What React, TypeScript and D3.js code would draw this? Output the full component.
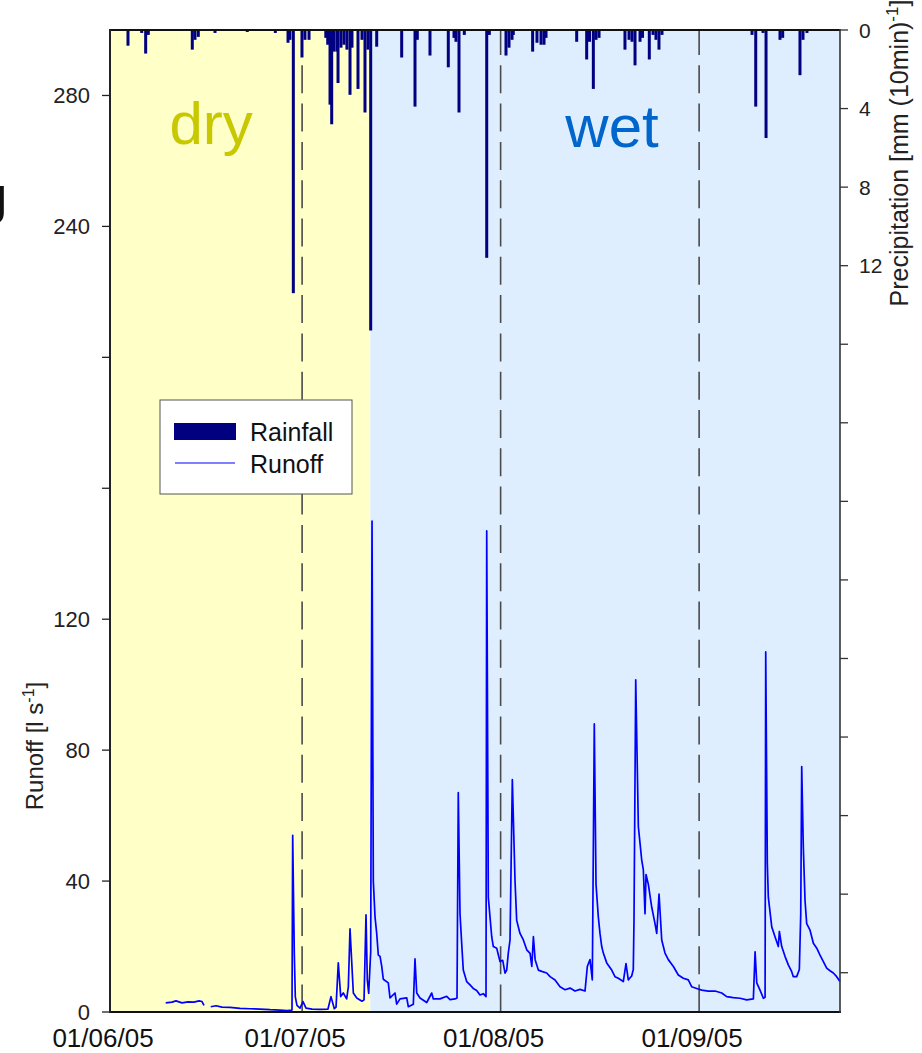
import React from "react";
import * as d3 from "d3";

// days after 01/06/05 00:00 and rainfall depth [mm (10min)^-1]
const rainDay = [
  2.81, 4.95, 5.57, 5.98, 12.85, 13.27, 13.79, 16.4, 21.44, 25.82,
  27.8, 28.1, 28.63, 29.98, 30.45, 31.08, 33.7, 34.0, 34.36, 34.62,
  34.98, 35.45, 35.61, 36.07, 36.54, 37.0, 37.48, 37.79, 38.73, 39.35,
  39.82, 40.29, 40.71, 41.65, 45.55, 47.63, 47.99, 49.97, 52.83, 53.72,
  54.03, 54.5, 55.33, 58.83, 59.24, 61.84, 62.31, 62.78, 62.98, 66.0,
  66.68, 67.31, 67.78, 68.09, 72.88, 74.44, 74.88, 75.48, 75.9, 76.37,
  80.42, 81.05, 81.52, 81.99, 82.77, 83.16, 84.22, 84.8, 85.26, 85.73,
  86.2, 100.26, 100.84, 101.98, 102.45, 104.63, 105.05, 107.75, 108.22, 108.84,
];
const rainMm = [
  0.8, 0.15, 1.2, 0.25, 1.0, 0.5, 0.35, 0.15, 0.1, 0.15,
  0.65, 0.5, 13.4, 1.4, 0.5, 0.5, 0.4, 0.75, 3.8, 4.8,
  1.1, 1.1, 2.7, 0.9, 0.75, 1.0, 3.3, 0.9, 3.0, 0.5,
  4.2, 1.0, 15.3, 0.85, 1.4, 3.9, 0.5, 1.3, 1.9, 0.4,
  0.6, 4.2, 0.25, 11.6, 0.25, 1.3, 0.9, 0.5, 0.25, 1.1,
  0.65, 0.75, 0.75, 0.4, 0.6, 1.5, 0.6, 3.0, 0.5, 0.4,
  1.0, 0.5, 0.6, 1.8, 0.6, 0.4, 1.5, 0.25, 0.5, 1.0,
  0.25, 0.25, 3.9, 0.15, 5.5, 0.5, 0.4, 2.3, 0.5, 0.15,
];

// runoff [l s^-1]: [day after 01/06/05, value]; null = gap in record
const runoff: [number, number | null][] = [
  [8.7, 2.8], [9.68, 3.0], [10.31, 3.4], [11.24, 2.8], [12.18, 3.1], [13.12, 3.0], [13.9, 3.4], [14.37, 3.2], [14.68, 2.0],
  [15.2, null],
  [15.73, 1.6], [16.55, 1.9], [17.49, 1.5], [18.74, 1.4], [20.3, 1.1], [21.86, 1.0], [23.42, 0.9], [24.99, 0.7], [26.55, 0.6], [27.64, 0.4], [28.42, 0.6],
  [28.53, 54], [28.78, 18], [28.94, 4.6], [29.2, 2.0], [29.67, 1.2], [30.14, 3.2], [30.61, 1.2], [31.55, 0.9], [32.8, 0.8], [34.04, 0.9],
  [34.51, 4.7], [35.03, 1.0], [35.3, 1.5], [35.65, 15], [36.03, 4.7], [36.43, 5.8], [36.96, 4.0], [37.22, 7.7], [37.48, 25.4], [38.0, 5.8],
  [38.53, 4.3], [39.35, 3.3], [39.67, 3.7], [39.98, 29.7], [40.18, 9.8], [40.4, 5.7], [40.71, 18.4],
  [40.92, 150], [41.12, 40], [41.39, 29], [41.65, 24], [41.9, 17.4], [42.17, 17], [42.43, 14], [42.68, 10], [43.46, 8.9], [43.73, 4.3],
  [44.51, 5.8], [44.77, 2.4], [45.29, 4.0], [46.34, 4.3], [46.59, 1.6], [47.37, 2.4], [47.63, 16.2], [47.9, 5.8], [48.41, 4.3], [49.46, 2.9],
  [50.24, 5.8], [50.49, 4.0], [51.54, 4.0], [52.58, 4.8], [53.1, 3.8], [53.88, 4.0], [54.19, 4.3],
  [54.39, 67], [54.66, 30], [54.92, 21], [55.17, 12.8], [55.7, 9.3], [56.22, 8.3], [56.73, 7.2], [57.26, 6.6], [57.78, 5.2], [58.3, 5.6], [58.72, 4.7],
  [58.83, 147], [59.08, 35], [59.61, 23], [59.86, 20], [60.39, 19.5], [60.64, 17.5], [60.91, 15.4], [61.33, 15.8], [61.69, 11.9], [61.95, 12.8], [62.2, 18], [62.47, 22],
  [62.83, 71], [63.25, 40], [63.51, 28], [64.03, 24], [64.55, 22], [65.08, 19], [65.6, 17.9], [65.87, 13.9], [66.12, 23], [66.39, 16],
  [66.89, 12.8], [67.42, 12.4], [68.2, 11.9], [68.72, 10.8], [69.5, 9.8], [70.28, 7.7], [71.06, 6.8], [71.84, 7.3], [72.62, 6.4], [73.4, 6.9],
  [74.18, 6.4], [74.54, 13.9], [74.96, 16], [75.32, 9.8],
  [75.63, 88], [75.9, 39], [76.26, 29], [76.52, 24], [76.79, 20], [77.04, 18], [77.57, 15], [78.35, 12.8], [78.86, 10.8], [79.38, 10.3],
  [80.16, 9.3], [80.58, 14.8], [80.94, 9.8], [81.47, 11.0], [81.72, 13], [81.83, 28],
  [82.1, 101.5], [82.51, 56.6], [82.77, 51.6], [83.03, 46.5], [83.29, 43.4], [83.55, 30], [83.71, 42], [84.07, 39], [84.6, 32], [85.11, 27],
  [85.38, 24], [85.74, 36], [86.16, 22], [86.67, 18], [87.19, 16], [87.98, 13.9], [88.75, 11.3], [89.53, 10.3], [90.31, 9.8], [90.85, 7.7],
  [91.62, 7.2], [92.41, 6.7], [93.44, 6.4], [94.48, 6.4], [95.53, 5.8], [96.31, 4.7], [97.34, 4.4], [98.39, 4.2], [99.43, 3.7], [100.47, 4.0],
  [100.74, 18.4], [101.0, 8.9], [101.51, 6.7], [102.03, 4.2], [102.3, 4.5],
  [102.4, 110], [102.65, 45.5], [102.81, 35], [103.34, 26], [103.85, 23], [104.37, 20], [104.53, 24.6], [104.9, 20], [105.41, 17], [105.93, 14.4],
  [106.46, 12.3], [106.71, 10.8], [107.24, 10.8], [107.65, 13], [107.87, 30],
  [108.02, 75], [108.27, 50.5], [108.54, 34], [108.8, 27], [109.32, 25], [109.84, 21], [110.37, 19.5], [110.88, 17.4], [111.4, 15.4], [111.92, 13.4],
  [112.44, 12.6], [112.96, 11.9], [113.48, 10.8], [114.0, 9.3],
];

const periodNames = ["dry", "wet"];
const periodStart = [0, 40.65];
const periodEnd = [40.65, 114];
const periodLabelDay = [15.8, 78.4];

const runoffTicks = [0, 40, 80, 120, 160, 200, 240, 280];
const runoffTickLabels = [0, 40, 80, 120, 240, 280];
const rainTicks = [0, 4, 8, 12, 16, 20, 24, 28, 32, 36, 40, 44, 48];
const rainTickLabels = [0, 4, 8, 12];

const T0 = Date.UTC(2005, 5, 1);
const day = (d: number) => new Date(T0 + d * 864e5);

const FONT = "'Liberation Sans', Arial, Helvetica, sans-serif";
const L = 110, R = 840, TOP = 30, BOT = 1012;

export default function App() {
  const x = d3.scaleUtc().domain([day(0), day(114)]).range([L, R]);
  const yRun = d3.scaleLinear().domain([0, 300]).range([BOT, TOP]);
  const yRain = d3.scaleLinear().domain([0, 50]).range([TOP, BOT]);
  const months = d3.utcMonth.range(day(0), day(114.01));
  const fmt = d3.utcFormat("%d/%m/%y");

  const line = d3
    .line<[number, number | null]>()
    .defined((d) => d[1] !== null)
    .x((d) => x(day(d[0])))
    .y((d) => yRun(d[1] as number));

  const bg = ["#FFFFC8", "#DEEEFF"];
  const labelColor = ["#C8C800", "#0066CC"];
  const labelBase = [144, 147];

  return (
    <svg width={922} height={1053} style={{ position: "absolute", left: 0, top: 0, background: "#fff" }} fontFamily={FONT}>
      {periodNames.map((p, i) => (
        <rect key={p} x={x(day(periodStart[i]))} y={TOP} width={x(day(periodEnd[i])) - x(day(periodStart[i]))} height={BOT - TOP} fill={bg[i]} />
      ))}
      {periodNames.map((p, i) => (
        <text key={p} x={x(day(periodLabelDay[i]))} y={labelBase[i]} textAnchor="middle" fontSize={60} fill={labelColor[i]}>
          {p}
        </text>
      ))}

      {/* month boundaries */}
      {months.map((m) => (
        <line key={+m} x1={x(m)} x2={x(m)} y1={TOP} y2={BOT} stroke="#4a4a4a" strokeWidth={1.6} strokeDasharray="28 10.3" strokeDashoffset={3} />
      ))}

      <path d={line(runoff) || ""} fill="none" stroke="#0000FF" strokeWidth={1.7} strokeLinejoin="round" />

      {rainDay.map((d, i) => (
        <rect key={i} x={x(day(d)) - 1.5} y={yRain(0)} width={3} height={yRain(rainMm[i]) - yRain(0)} fill="#000080" />
      ))}

      {/* legend */}
      <g>
        <rect x={160} y={400} width={192} height={94} fill="#fff" stroke="#555" strokeWidth={1} />
        <rect x={174} y={423} width={62} height={17} fill="#000080" />
        <line x1={175} x2={235} y1={463} y2={463} stroke="#0000FF" strokeWidth={1.2} />
        <text x={250} y={441} fontSize={25} fill="#111">Rainfall</text>
        <text x={250} y={473} fontSize={25} fill="#111">Runoff</text>
      </g>

      {/* frame / axes */}
      <line x1={L} x2={R} y1={TOP} y2={TOP} stroke="#111" strokeWidth={2} />
      <line x1={L} x2={R + 1} y1={BOT} y2={BOT} stroke="#111" strokeWidth={2} />
      <line x1={L} x2={L} y1={TOP - 1} y2={BOT + 1} stroke="#222" strokeWidth={2} />
      <line x1={R} x2={R} y1={TOP - 1} y2={BOT + 1} stroke="#333" strokeWidth={1.6} />

      {runoffTicks.map((t) => (
        <g key={t} transform={`translate(${L},${yRun(t)})`}>
          <line x1={-8} x2={0} stroke="#222" strokeWidth={1.3} />
          {runoffTickLabels.includes(t) && (
            <text x={-20} dy="0.36em" textAnchor="end" fontSize={22} fill="#222">
              {t}
            </text>
          )}
        </g>
      ))}
      {rainTicks.map((t) => (
        <g key={t} transform={`translate(${R},${yRain(t)})`}>
          <line x1={0} x2={8} stroke="#333" strokeWidth={1.3} />
          {rainTickLabels.includes(t) && (
            <text x={19} dy="0.36em" fontSize={21} fill="#222">
              {t}
            </text>
          )}
        </g>
      ))}
      {months.map((m) => (
        <text key={+m} x={x(m) - 7} y={1047} textAnchor="middle" fontSize={26} fill="#111">
          {fmt(m)}
        </text>
      ))}

      <text transform="translate(43,746) rotate(-90)" textAnchor="middle" fontSize={24} fill="#222">
        Runoff [l s<tspan dy={-9} fontSize={16}>-1</tspan>
        <tspan dy={9}>]</tspan>
      </text>
      <text transform="translate(908,153) rotate(-90)" textAnchor="middle" fontSize={25} fill="#222">
        Precipitation [mm (10min)<tspan dy={-10} fontSize={17}>-1</tspan>
        <tspan dy={10}>]</tspan>
      </text>

      {/* clipped glyph at the left page edge */}
      <text x={8} y={224} textAnchor="end" fontSize={56} fill="#111">J</text>
    </svg>
  );
}
